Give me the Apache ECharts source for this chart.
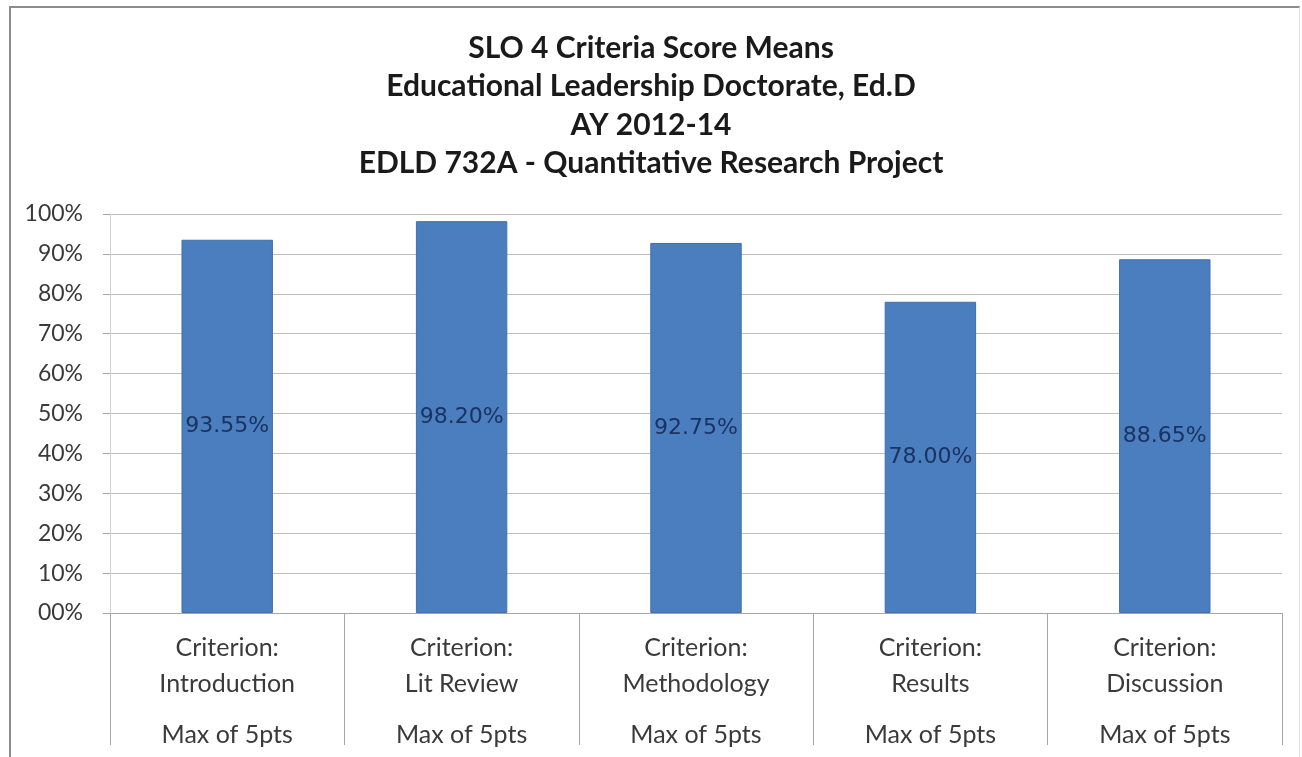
<!DOCTYPE html>
<html>
<head>
<meta charset="utf-8">
<script src="https://cdn.jsdelivr.net/npm/echarts@6/dist/echarts.min.js"></script>
<style>
  html, body { margin: 0; padding: 0; background: #ffffff; }
  #frame {
    position: absolute; left: 9px; top: 6px; width: 1291px; height: 760px;
    border-left: 2px solid #8c8c8c; border-top: 2px solid #8c8c8c; border-right: 1px solid #e0e0e0;
    box-sizing: border-box;
  }
  #chart { position: absolute; left: 0; top: 0; width: 1302px; height: 757px; }
</style>
</head>
<body>
<div id="frame"></div>
<div id="chart"></div>
<script>
// Criteria and their mean scores (percent of max points)
const criteria = ['Introduction', 'Lit Review', 'Methodology', 'Results', 'Discussion'];
const scoreMeans = [93.55, 98.20, 92.75, 78.00, 88.65];
const maxPointsLabel = 'Max of 5pts';
const yTickLabels = ['00%', '10%', '20%', '30%', '40%', '50%', '60%', '70%', '80%', '90%', '100%'];
const titleLines = [
  'SLO 4 Criteria Score Means',
  'Educational Leadership Doctorate, Ed.D',
  'AY 2012-14',
  'EDLD 732A - Quantitative Research Project'
];

const FONT = 'Lato, "Open Sans", sans-serif';
const chart = echarts.init(document.getElementById('chart'), null, { renderer: 'canvas' });

chart.setOption({
  backgroundColor: 'transparent',
  animation: false,
  title: {
    text: titleLines.join('\n'),
    left: 'center',
    top: 24,
    textStyle: {
      fontFamily: FONT, fontWeight: 'bold', fontSize: 30, color: '#1a1a1a',
      lineHeight: 38.5
    }
  },
  grid: { left: 110, right: 20, top: 214, bottom: 144, containLabel: false, outerBoundsMode: 'none' },
  xAxis: {
    type: 'category',
    data: criteria,
    axisLine: { show: true, lineStyle: { color: '#a6a6a6', width: 1 } },
    axisTick: { show: true, interval: 0, length: 132, lineStyle: { color: '#a6a6a6', width: 1 } },
    axisLabel: {
      interval: 0,
      margin: 17,
      fontFamily: FONT,
      formatter: function (name) {
        return '{a|Criterion:}\n{a|' + name + '}\n{b|' + maxPointsLabel + '}';
      },
      rich: {
        a: { fontFamily: FONT, fontSize: 25, color: '#3a3a3a', lineHeight: 36 },
        b: { fontFamily: FONT, fontSize: 25, color: '#3a3a3a', lineHeight: 66 }
      }
    }
  },
  yAxis: {
    type: 'value',
    min: 0, max: 100, interval: 10,
    axisLine: { show: true, lineStyle: { color: '#d0d0d0' } },
    axisTick: { show: true, length: 7, lineStyle: { color: '#a6a6a6' } },
    axisLabel: {
      margin: 27,
      fontFamily: FONT, fontSize: 23, color: '#3a3a3a',
      formatter: function (v) { return yTickLabels[Math.round(v / 10)]; }
    },
    splitLine: { show: true, lineStyle: { color: '#bfbfbf', width: 1 } }
  },
  series: [{
    type: 'bar',
    data: scoreMeans,
    barWidth: '39%',
    itemStyle: { color: '#4a7ebf', borderColor: '#3f6fae', borderWidth: 1 },
    label: {
      show: true,
      position: 'inside',
      fontFamily: '"DejaVu Sans", sans-serif',
      fontSize: 22,
      color: '#1a3360',
      formatter: function (p) { return p.value.toFixed(2) + '%'; }
    }
  }]
});
</script>
</body>
</html>
